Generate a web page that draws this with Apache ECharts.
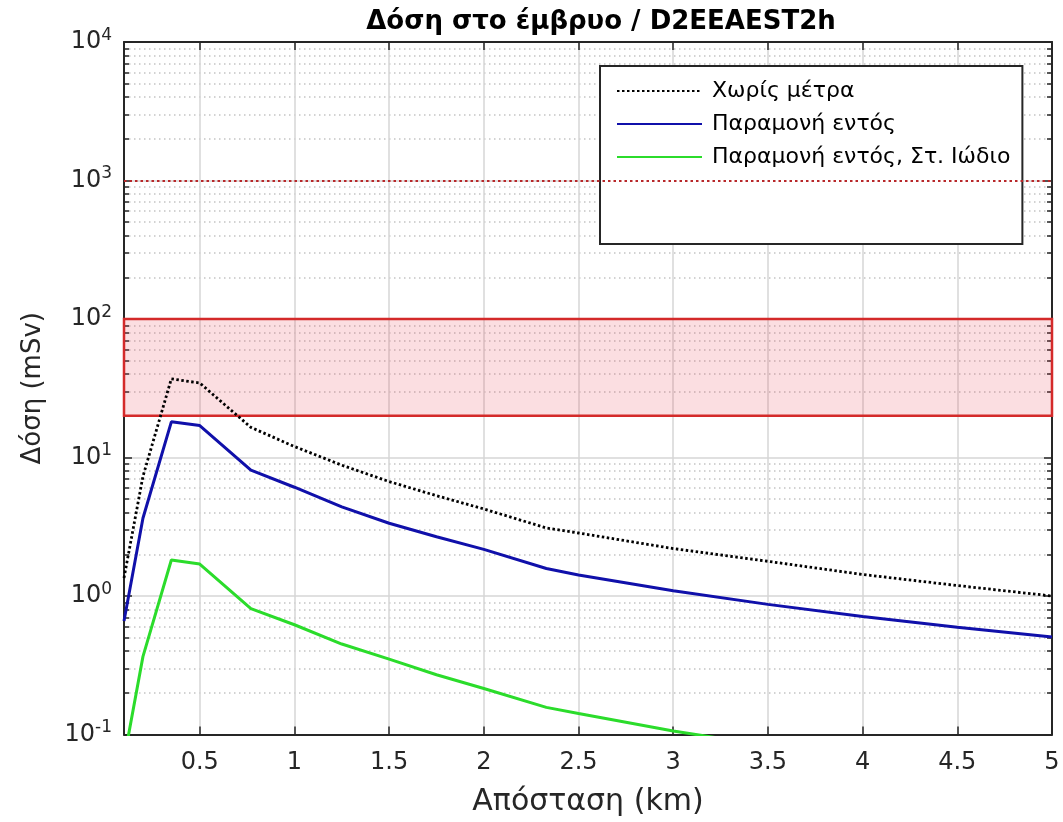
<!DOCTYPE html>
<html>
<head>
<meta charset="utf-8">
<script src="https://cdn.jsdelivr.net/npm/echarts@6/dist/echarts.min.js"></script>
<style>
  html, body { margin: 0; padding: 0; background: #fff; }
  #chart { width: 1063px; height: 822px; }
</style>
</head>
<body>
<div id="chart"></div>
<script>
// distance from source (km)
const distKm = [0.1, 0.2, 0.35, 0.5, 0.77, 1.0, 1.25, 1.5, 1.75, 2.0, 2.33, 2.5, 3.0, 3.5, 4.0, 4.5, 5.0]
// fetal dose (mSv)
const doseNoMeasures = [1.35, 7.3, 37, 34.5, 16.5, 12.0, 8.8, 6.7, 5.3, 4.25, 3.1, 2.85, 2.2, 1.78, 1.43, 1.19, 1.0]
const doseSheltering = [0.66, 3.64, 18.1, 17.0, 8.1, 6.1, 4.4, 3.35, 2.68, 2.17, 1.58, 1.42, 1.09, 0.87, 0.71, 0.595, 0.505]
const doseShelterIodine = [0.066, 0.365, 1.82, 1.70, 0.81, 0.62, 0.45, 0.35, 0.27, 0.215, 0.157, 0.142, 0.106, 0.083, 0.071, 0.06, 0.05]

const seriesNames = ['Χωρίς μέτρα', 'Παραμονή εντός', 'Παραμονή εντός, Στ. Ιώδιο']
const xTicks = [0.5, 1, 1.5, 2, 2.5, 3, 3.5, 4, 4.5, 5]
const bandRange = [20, 100]
const limitLine = 1000

const FONT = 'DejaVu Sans'
const AX = '#262626'

function pairs (xs, ys) {
  return xs.map((x, i) => [x, ys[i]])
}

let chart = echarts.init(document.getElementById('chart'))

let axisBase = {
  axisLine: { show: true, onZero: false, lineStyle: { color: AX, width: 2 } },
  axisTick: { show: true, inside: true, length: 8, lineStyle: { color: AX, width: 1.5 } }
}

let option = {
  animation: false,
  backgroundColor: '#fff',
  title: {
    text: 'Δόση στο έμβρυο / D2EEAEST2h',
    left: 596,
    top: 4,
    textAlign: 'center',
    textStyle: { fontFamily: FONT, fontWeight: 'bold', fontSize: 26, color: '#000' }
  },
  grid: { left: 124, right: 11, top: 42, bottom: 87.5, containLabel: false, outerBoundsMode: 'none' },
  legend: {
    data: seriesNames,
    orient: 'vertical',
    left: 600,
    top: 66,
    padding: [13, 12, 75, 16],
    itemWidth: 85,
    itemHeight: 14,
    itemGap: 9,
    backgroundColor: '#fff',
    borderColor: AX,
    borderWidth: 2,
    borderRadius: 0,
    itemStyle: { opacity: 0 },
    textStyle: { fontFamily: FONT, fontSize: 22, lineHeight: 24, color: '#000', padding: [0, 0, 0, 5] }
  },
  xAxis: [
    Object.assign({}, axisBase, {
      type: 'value',
      min: 0.1,
      max: 5,
      name: 'Απόσταση (km)',
      nameLocation: 'middle',
      nameGap: 53,
      nameTextStyle: { fontFamily: FONT, fontSize: 30, color: AX },
      axisTick: { show: true, inside: true, length: 8, customValues: xTicks, lineStyle: { color: AX, width: 1.5 } },
      axisLabel: { customValues: xTicks, margin: 16, fontFamily: FONT, fontSize: 24, color: AX },
      splitLine: { show: true, lineStyle: { color: '#d6d6d6', width: 1.5 } }
    }),
    Object.assign({}, axisBase, {
      type: 'value',
      position: 'top',
      min: 0.1,
      max: 5,
      axisTick: { show: true, inside: true, length: 8, customValues: xTicks, lineStyle: { color: AX, width: 1.5 } },
      axisLabel: { show: false },
      splitLine: { show: false }
    })
  ],
  yAxis: [
    Object.assign({}, axisBase, {
      type: 'log',
      logBase: 10,
      min: 0.1,
      max: 10000,
      name: 'Δόση (mSv)',
      nameLocation: 'middle',
      nameGap: 78,
      nameTextStyle: { fontFamily: FONT, fontSize: 26, color: AX },
      minorTick: { show: true, splitNumber: 9, length: 5, lineStyle: { color: AX, width: 1.5 } },
      axisLabel: {
        margin: 12,
        formatter: function (v) {
          let e = Math.round(Math.log10(v))
          return '{b|10}{s|' + e + '}'
        },
        rich: {
          b: { fontFamily: FONT, fontSize: 24, color: AX },
          s: { fontFamily: FONT, fontSize: 17, color: AX, padding: [0, 0, 13, 0] }
        }
      },
      splitLine: { show: true, lineStyle: { color: '#d6d6d6', width: 1.5 } },
      minorSplitLine: { show: true, lineStyle: { color: '#c4c4c4', width: 1.5, type: [1.5, 3.5] } }
    }),
    Object.assign({}, axisBase, {
      type: 'log',
      logBase: 10,
      min: 0.1,
      max: 10000,
      position: 'right',
      minorTick: { show: true, splitNumber: 9, length: 5, lineStyle: { color: AX, width: 1.5 } },
      axisLabel: { show: false },
      splitLine: { show: false }
    })
  ],
  series: [
    {
      name: 'band',
      type: 'line',
      data: [],
      silent: true,
      markArea: {
        silent: true,
        itemStyle: { color: 'rgba(230,60,80,0.17)', borderColor: '#d42a2a', borderWidth: 2.5 },
        data: [[{ yAxis: bandRange[0] }, { yAxis: bandRange[1] }]]
      },
      markLine: {
        silent: true,
        symbol: 'none',
        label: { show: false },
        lineStyle: { color: '#b8282a', width: 2, type: [2.5, 3] },
        data: [{ yAxis: limitLine }]
      }
    },
    {
      name: seriesNames[0],
      type: 'line',
      symbol: 'none',
      z: 4,
      lineStyle: { color: '#000', width: 2.8, type: [2.5, 2.5] },
      itemStyle: { color: '#000' },
      data: pairs(distKm, doseNoMeasures)
    },
    {
      name: seriesNames[1],
      type: 'line',
      symbol: 'none',
      z: 4,
      lineStyle: { color: '#1010aa', width: 3 },
      itemStyle: { color: '#1010aa' },
      data: pairs(distKm, doseSheltering)
    },
    {
      name: seriesNames[2],
      type: 'line',
      symbol: 'none',
      z: 4,
      lineStyle: { color: '#2bdc2b', width: 3 },
      itemStyle: { color: '#2bdc2b' },
      data: pairs(distKm, doseShelterIodine)
    }
  ]
}

chart.setOption(option)
</script>
</body>
</html>
